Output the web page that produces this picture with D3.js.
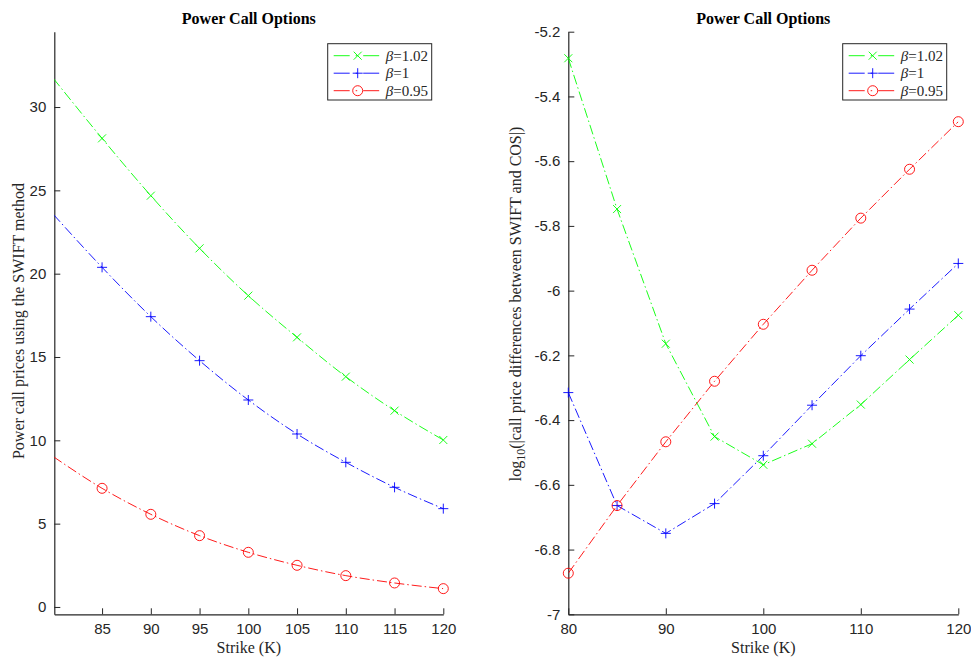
<!DOCTYPE html>
<html>
<head>
<meta charset="utf-8">
<script src="https://cdn.jsdelivr.net/npm/d3@7"></script>
<style>
  body { margin: 0; background: #fff; }
  .tick text { font-family: "Liberation Sans", Arial, sans-serif; font-size: 15px; fill: #262626; }
  .axisLabel { font-family: "Liberation Serif", "Times New Roman", serif; font-size: 16px; fill: #262626; }
  .title { font-family: "Liberation Serif", "Times New Roman", serif; font-size: 16px; font-weight: bold; fill: #000; }
  .legendText { font-family: "Liberation Serif", "Times New Roman", serif; font-size: 15px; fill: #262626; }
</style>
</head>
<body>
<div id="chart"></div>
<script>
// strikes K
var strikes = [80, 85, 90, 95, 100, 105, 110, 115, 120];

// left panel: power call prices (SWIFT)
var priceB102 = [31.72, 28.12, 24.68, 21.52, 18.68, 16.18, 13.82, 11.78, 10.02];
var priceB100 = [23.56, 20.38, 17.42, 14.78, 12.42, 10.38, 8.68, 7.18, 5.90];
var priceB095 = [9.02, 7.12, 5.56, 4.28, 3.28, 2.50, 1.88, 1.44, 1.10];

// right panel: log10 |SWIFT - COS|
var errB102 = [-5.282, -5.748, -6.164, -6.451, -6.538, -6.473, -6.352, -6.213, -6.076];
var errB100 = [-6.315, -6.664, -6.750, -6.658, -6.510, -6.354, -6.201, -6.057, -5.916];
var errB095 = [-6.873, -6.664, -6.467, -6.280, -6.104, -5.937, -5.776, -5.625, -5.478];

var seriesNames = ["1.02", "1", "0.95"];
var leftTicksX = [85, 90, 95, 100, 105, 110, 115, 120];
var leftTicksY = [0, 5, 10, 15, 20, 25, 30];
var rightTicksX = [80, 90, 100, 110, 120];
var rightTicksY = [-7, -6.8, -6.6, -6.4, -6.2, -6, -5.8, -5.6, -5.4, -5.2];

var colors = ["#00ff00", "#0000ff", "#ff0000"];
var markers = ["x", "+", "o"];

var width = 971;
var height = 659;

var svg = d3.select("#chart")
    .append("svg")
    .attr("width", width)
    .attr("height", height);

function drawMarker(g, type, x, y, color) {
    if (type === "x") {
        g.append("path")
            .attr("d", `M${x-4},${y-4}L${x+4},${y+4}M${x-4},${y+4}L${x+4},${y-4}`)
            .attr("stroke", color).attr("stroke-width", 0.9).attr("fill", "none");
    } else if (type === "+") {
        g.append("path")
            .attr("d", `M${x-5},${y}L${x+5},${y}M${x},${y-5}L${x},${y+5}`)
            .attr("stroke", color).attr("stroke-width", 0.9).attr("fill", "none");
    } else {
        g.append("circle")
            .attr("cx", x).attr("cy", y).attr("r", 5)
            .attr("stroke", color).attr("stroke-width", 0.9).attr("fill", "none");
    }
}

function panel(opts) {
    var g = svg.append("g");
    var left = opts.left, right = opts.right, top = 31.7, bottom = 614.3;

    var xScale = d3.scaleLinear().domain(opts.xDomain).range([left, right]);
    var yScale = d3.scaleLinear().domain(opts.yDomain).range([bottom, top]);

    var clipId = "clip" + opts.id;
    svg.append("clipPath").attr("id", clipId)
        .append("rect")
        .attr("x", left).attr("y", top)
        .attr("width", right - left).attr("height", bottom - top);

    var fmt = function(d) { return String(+d.toFixed(1)); };

    var xAxis = g.append("g")
        .attr("class", "axis")
        .attr("transform", `translate(0,${bottom})`)
        .call(d3.axisBottom(xScale).tickValues(opts.xTicks).tickSize(-6).tickSizeOuter(0).tickPadding(9).tickFormat(fmt));

    var yAxis = g.append("g")
        .attr("class", "axis")
        .attr("transform", `translate(${left},0)`)
        .call(d3.axisLeft(yScale).tickValues(opts.yTicks).tickSize(-6).tickSizeOuter(0).tickPadding(8).tickFormat(fmt));

    g.selectAll(".axis path.domain").attr("stroke", "#262626").attr("stroke-width", 1.2);
    g.selectAll(".axis .tick line").attr("stroke", "#262626").attr("stroke-width", 1);

    var line = d3.line()
        .x(function(d) { return xScale(d.k); })
        .y(function(d) { return yScale(d.v); })
        .curve(opts.curve);

    opts.series.forEach(function(vals, i) {
        var pts = strikes.map(function(k, j) { return { k: k, v: vals[j] }; });
        g.append("path")
            .datum(pts)
            .attr("clip-path", `url(#${clipId})`)
            .attr("d", line)
            .attr("fill", "none")
            .attr("stroke", colors[i])
            .attr("stroke-width", 0.9)
            .attr("stroke-dasharray", "10,3,1.5,3");
        pts.forEach(function(p, j) {
            if (j < opts.markStart) return;
            drawMarker(g, markers[i], xScale(p.k), yScale(p.v), colors[i]);
        });
    });

    // title
    g.append("text")
        .attr("class", "title")
        .attr("x", (left + right) / 2)
        .attr("y", 24)
        .attr("text-anchor", "middle")
        .text("Power Call Options");

    // x label
    g.append("text")
        .attr("class", "axisLabel")
        .attr("x", (left + right) / 2)
        .attr("y", 653)
        .attr("text-anchor", "middle")
        .text("Strike (K)");

    // legend
    var lx = right - 115.6, ly = 43.7;
    var leg = g.append("g");
    leg.append("rect")
        .attr("x", lx).attr("y", ly)
        .attr("width", 104).attr("height", 56.3)
        .attr("fill", "#fff").attr("stroke", "#262626").attr("stroke-width", 1);
    seriesNames.forEach(function(name, i) {
        var yy = ly + 12 + i * 17.5;
        leg.append("line")
            .attr("x1", lx + 6).attr("x2", lx + 52)
            .attr("y1", yy).attr("y2", yy)
            .attr("stroke", colors[i]).attr("stroke-width", 0.9)
            .attr("stroke-dasharray", "16,6,1.5,6");
        drawMarker(leg, markers[i], lx + 30, yy, colors[i]);
        var t = leg.append("text")
            .attr("class", "legendText")
            .attr("x", lx + 58)
            .attr("y", yy + 5);
        t.append("tspan").attr("font-style", "italic").text("β");
        t.append("tspan").text("=" + name);
    });

    return g;
}

panel({
    id: "L", left: 54.3, right: 443.3,
    xDomain: [80.1, 120], yDomain: [-0.44, 34.52],
    xTicks: leftTicksX, yTicks: leftTicksY,
    series: [priceB102, priceB100, priceB095],
    markStart: 1, curve: d3.curveMonotoneX
});

panel({
    id: "R", left: 568.3, right: 958.3,
    xDomain: [80, 120], yDomain: [-7, -5.2],
    xTicks: rightTicksX, yTicks: rightTicksY,
    series: [errB102, errB100, errB095],
    markStart: 0, curve: d3.curveLinear
});

// y axis labels
svg.append("text")
    .attr("class", "axisLabel")
    .attr("transform", "translate(24,321) rotate(-90)")
    .attr("text-anchor", "middle")
    .text("Power call prices using the SWIFT method");

var yr = svg.append("text")
    .attr("class", "axisLabel")
    .attr("transform", "translate(521,304) rotate(-90)")
    .attr("text-anchor", "middle");
yr.append("tspan").text("log");
yr.append("tspan").attr("dy", 4).attr("font-size", "12px").text("10");
yr.append("tspan").attr("dy", -4).text("(|call price differences between SWIFT and COS|)");
</script>
</body>
</html>
